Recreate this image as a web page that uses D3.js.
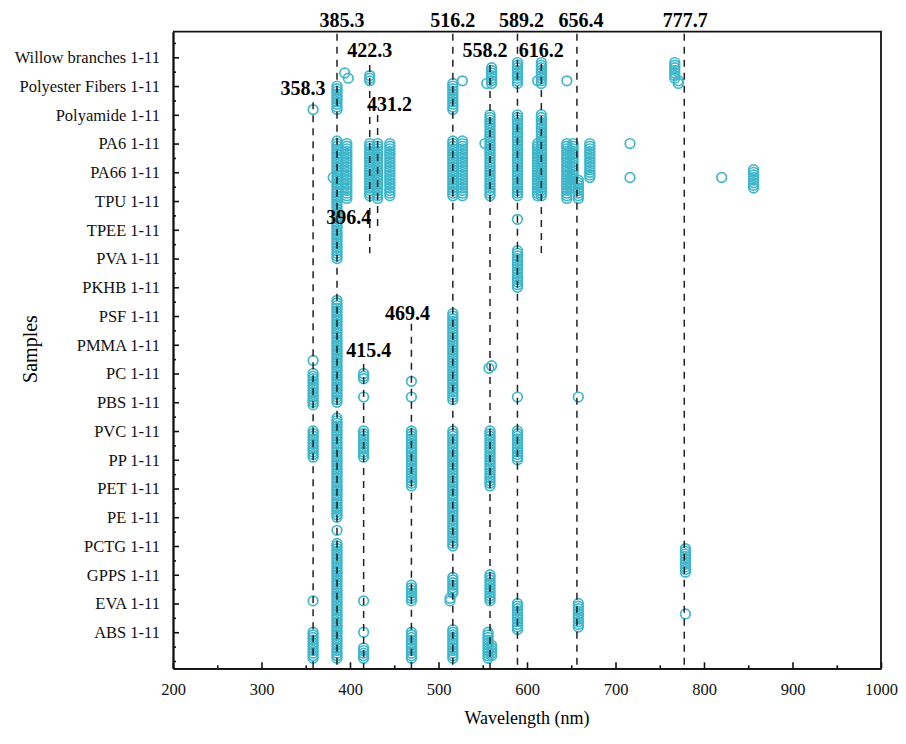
<!DOCTYPE html>
<html>
<head>
<meta charset="utf-8">
<script src="https://cdn.jsdelivr.net/npm/d3@7.9.0/dist/d3.min.js"></script>
<style>
  body { margin: 0; background: #fff; }
  svg { display: block; font-family: "Liberation Serif", "Times New Roman", serif; }
</style>
</head>
<body>
<svg id="chart" width="906" height="744"></svg>
<script>
// samples, bottom to top; each one holds spectra 1-11 (index = 11*k + r)
const samples = ['ABS', 'EVA', 'GPPS', 'PCTG', 'PE', 'PET', 'PP', 'PVC', 'PBS', 'PC',
  'PMMA', 'PSF', 'PKHB', 'PVA', 'TPEE', 'TPU', 'PA66', 'PA6', 'Polyamide',
  'Polyester Fibers', 'Willow branches'];

const xTicks = [200, 300, 400, 500, 600, 700, 800, 900, 1000];

// detected peaks: [wavelength nm, first spectrum index, last spectrum index]
const detections = [
  // Willow branches / Polyester Fibers
  [358.3, 211, 211], [385.3, 211, 220], [394, 225, 225], [398, 223, 223],
  [422.3, 222, 224], [516.2, 211, 221], [527, 222, 222], [554.5, 221, 221],
  [560, 221, 227], [589.2, 221, 229], [616.2, 221, 229], [612, 222, 222],
  [645, 222, 222], [767, 223, 229], [771, 221, 222],
  // Polyamide, PA6, PA66, TPU, TPEE, PVA, PKHB
  [558.2, 178, 209], [552.5, 198, 198], [589.2, 178, 209], [616.2, 178, 209],
  [612, 178, 198], [516.2, 178, 199], [527, 178, 199], [385.3, 154, 199],
  [396.4, 177, 198], [381, 185, 185], [422.3, 178, 198], [431.2, 177, 198],
  [445, 178, 198], [645, 177, 198], [652, 185, 198], [649, 181, 185],
  [658, 177, 184], [671, 185, 198], [716.4, 198, 198], [716.4, 185, 185],
  [820, 185, 185], [856, 181, 188], [589.2, 169, 169], [589.2, 143, 157],
  // PSF, PMMA, PC, PBS
  [385.3, 99, 138], [516.2, 100, 133], [358.3, 115, 115], [358.3, 98, 110],
  [415.4, 108, 110], [415.4, 101, 101], [469.4, 107, 107], [469.4, 101, 101],
  [557, 112, 112], [560, 113, 113], [589.2, 101, 101], [658, 101, 101],
  // PVC, PP, PET, PE
  [358.3, 78, 88], [385.3, 55, 93], [415.4, 78, 88], [469.4, 67, 88],
  [516.2, 44, 88], [558.2, 67, 88], [589.2, 77, 88], [385.3, 50, 50],
  // PCTG, GPPS, EVA, ABS
  [385.3, 1, 45], [516.2, 26, 32], [513, 23, 24], [516.2, 1, 12],
  [558.2, 23, 33], [556, 1, 11], [560, 2, 6], [589.2, 12, 22], [658, 13, 22],
  [779, 34, 43], [779, 18, 18], [358.3, 23, 23], [358.3, 1, 11],
  [415.4, 23, 23], [415.4, 11, 11], [415.4, 1, 5], [469.4, 23, 29], [469.4, 1, 11]
];

// marked emission lines and the spectrum range their dashed line covers (null = none)
const peakLines = [358.3, 385.3, 396.4, 415.4, 422.3, 431.2, 469.4, 516.2, 558.2, 589.2, 616.2, 656.4, 777.7];
const peakSpans = [[-3, 214.6], [-3, 241], null, [-3, 114.4], [156, 228.8], [166, 209.7],
  [-3, 129.8], [-3, 241], [-3, 228.8], [-3, 241], [156, 229.2], [-3, 241], [-3, 241]];

// label placement (pixel offset from line, baseline y)
const labelDx = [-10, 5, 2, 5, 0, 12, -4, 0, -5, 4, 0, 4, 1];
const labelY = [95, 27, 224, 357, 57, 111, 320, 27, 57, 27, 57, 27, 27];

const svg = d3.select('#chart');
const margin = { left: 173, right: 25, top: 31.7, bottom: 75.7 };
const W = 906, H = 744;

const x = d3.scaleLinear().domain([200, 1000]).range([margin.left, W - margin.right]);
const y = d3.scaleLinear().domain([-2.8, 240.8]).range([H - margin.bottom, margin.top]);

const cyan = '#3fb6ca';

// points
const points = detections.flatMap(([w, a, b]) => d3.range(a, b + 1).map(v => ({ w, v })));
svg.append('g')
  .selectAll('circle')
  .data(points)
  .join('circle')
  .attr('cx', d => x(d.w))
  .attr('cy', d => y(d.v))
  .attr('r', 4.8)
  .attr('fill', 'none')
  .attr('stroke', cyan)
  .attr('stroke-width', 1.7);

// dashed lines
const lines = svg.append('g');
peakLines.forEach((w, i) => {
  const span = peakSpans[i];
  if (span) {
    const top = Math.max(y(span[1]), margin.top);
    const bot = Math.min(y(span[0]), H - margin.bottom);
    lines.append('line')
      .attr('x1', x(w)).attr('x2', x(w))
      .attr('y1', top + 2).attr('y2', bot)
      .attr('stroke', '#222')
      .attr('stroke-width', 1.5)
      .attr('stroke-dasharray', '7,6');
  }
  lines.append('text')
    .attr('x', x(w) + labelDx[i])
    .attr('y', labelY[i])
    .attr('text-anchor', 'middle')
    .attr('font-size', 20)
    .attr('font-weight', 'bold')
    .text(w.toFixed(1));
});

// x axis
svg.append('g')
  .attr('transform', `translate(0,${H - margin.bottom})`)
  .call(d3.axisBottom(x).tickValues(xTicks).tickFormat(d3.format('d'))
    .tickSize(-6).tickPadding(15).tickSizeOuter(0));
svg.append('g')
  .attr('transform', `translate(0,${H - margin.bottom})`)
  .call(d3.axisBottom(x).tickValues(d3.range(250, 1000, 100)).tickSize(-3).tickFormat('').tickSizeOuter(0));

// y axis
svg.append('g')
  .attr('transform', `translate(${margin.left},0)`)
  .call(d3.axisLeft(y)
    .tickValues(samples.map((s, k) => 11 * (k + 1)))
    .tickFormat((d, i) => samples[i] + ' 1-11')
    .tickSize(-6).tickPadding(13).tickSizeOuter(0));
svg.append('g')
  .attr('transform', `translate(${margin.left},0)`)
  .call(d3.axisLeft(y)
    .tickValues(d3.range(0, 240, 11).map(v => v === 0 ? 0 : v - 5.5).concat([236.5]))
    .tickSize(-3).tickFormat('').tickSizeOuter(0));

svg.selectAll('.domain').attr('stroke', '#111').attr('stroke-width', 1.8);
svg.selectAll('.tick line').attr('stroke', '#111').attr('stroke-width', 1.6);
svg.selectAll('.tick text')
  .attr('font-family', '"Liberation Serif", serif')
  .attr('font-size', 16.5)
  .attr('fill', '#111');

// top and right frame
svg.append('path')
  .attr('d', `M${margin.left},${margin.top}H${W - margin.right}V${H - margin.bottom}`)
  .attr('fill', 'none')
  .attr('stroke', '#111')
  .attr('stroke-width', 1.8);

// axis titles
svg.append('text')
  .attr('x', (margin.left + W - margin.right) / 2)
  .attr('y', 724)
  .attr('text-anchor', 'middle')
  .attr('font-size', 18)
  .text('Wavelength (nm)');

svg.append('text')
  .attr('transform', 'translate(37,349) rotate(-90)')
  .attr('text-anchor', 'middle')
  .attr('font-size', 20)
  .text('Samples');
</script>
</body>
</html>
